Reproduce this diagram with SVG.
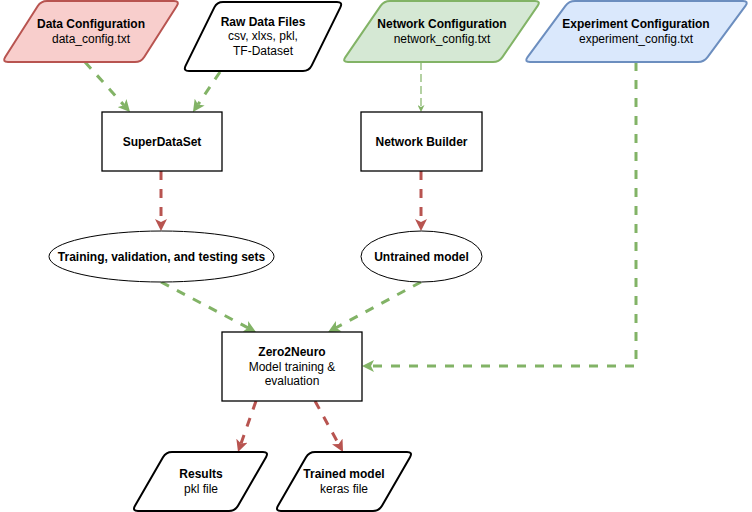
<svg xmlns="http://www.w3.org/2000/svg" width="752" height="512" viewBox="0 0 752 512">
<style>
text{font-family:"Liberation Sans",Arial,sans-serif;font-size:12px;fill:#000;text-anchor:middle}
.b{font-weight:bold}
.para{stroke-width:2}
.box{fill:#fff;stroke:#000;stroke-width:1.3}
.ell{fill:#fff;stroke:#000;stroke-width:1}
.g{fill:none;stroke:#82b366;stroke-width:3;stroke-dasharray:9 9}
.r{fill:none;stroke:#b85450;stroke-width:3;stroke-dasharray:9 9}
.gt{fill:none;stroke:#82b366;stroke-width:1.2;stroke-dasharray:8 4}
</style>
<defs>
<marker id="ag" markerUnits="userSpaceOnUse" markerWidth="12" markerHeight="12" refX="3" refY="6" orient="auto"><path d="M0,0 L12,6 L0,12 L3,6 Z" fill="#82b366"/></marker>
<marker id="ar" markerUnits="userSpaceOnUse" markerWidth="12" markerHeight="12" refX="3" refY="6" orient="auto"><path d="M0,0 L12,6 L0,12 L3,6 Z" fill="#b85450"/></marker>
<marker id="agt" markerUnits="userSpaceOnUse" markerWidth="7" markerHeight="7" refX="2" refY="3.5" orient="auto"><path d="M0,0 L7,3.5 L0,7 L2,3.5 Z" fill="#82b366"/></marker>
</defs>
<g id="connectors">
<path class="g" d="M85,62 L124,105.3" marker-end="url(#ag)"/>
<path class="g" d="M220,72 L198,104.5" marker-end="url(#ag)"/>
<path class="gt" d="M421,62 L421,107" marker-end="url(#agt)"/>
<path class="g" d="M636,62 L636,366 L371,366" marker-end="url(#ag)"/>
<path class="r" d="M161,171 L161,222" marker-end="url(#ar)"/>
<path class="r" d="M421,171 L421,222" marker-end="url(#ar)"/>
<path class="g" d="M161,282 L248,327.8" marker-end="url(#ag)"/>
<path class="g" d="M421,282 L336.1,327.7" marker-end="url(#ag)"/>
<path class="r" d="M256,401 L241,443.5" marker-end="url(#ar)"/>
<path class="r" d="M315,401 L338.7,444.1" marker-end="url(#ar)"/>
</g>
<g id="data-config">
<path class="para" fill="#f8cecc" stroke="#b85450" d="M37.77,6.06 Q41,1 47,1 L174,1 Q180,1 176.77,6.06 L144.23,56.94 Q141,62 135,62 L8,62 Q2,62 5.23,56.94 Z"/>
<text x="91" y="28" class="b">Data Configuration</text>
<text x="91" y="43">data_config.txt</text>
</g>
<g id="raw-data">
<path class="para" fill="#fff" stroke="#000" d="M214.35,7.38 Q217,2 223,2 L337,2 Q343,2 340.35,7.38 L311.65,65.62 Q309,71 303,71 L189,71 Q183,71 185.65,65.62 Z"/>
<text x="263" y="26" class="b">Raw Data Files</text>
<text x="263" y="40">csv, xlxs, pkl,</text>
<text x="263" y="55">TF-Dataset</text>
</g>
<g id="network-config">
<path class="para" fill="#d5e8d4" stroke="#82b366" d="M380.6,5.94 Q384,1 390,1 L535,1 Q541,1 537.6,5.94 L502.4,57.06 Q499,62 493,62 L348,62 Q342,62 345.4,57.06 Z"/>
<text x="442" y="28" class="b">Network Configuration</text>
<text x="442" y="43">network_config.txt</text>
</g>
<g id="experiment-config">
<path class="para" fill="#dae8fc" stroke="#6c8ebf" d="M565.44,5.83 Q569,1 575,1 L743,1 Q749,1 745.44,5.83 L707.56,57.17 Q704,62 698,62 L530,62 Q524,62 527.56,57.17 Z"/>
<text x="636" y="28" class="b">Experiment Configuration</text>
<text x="636" y="43">experiment_config.txt</text>
</g>
<g id="superdataset">
<rect class="box" x="102" y="112" width="120" height="59"/>
<text x="162" y="146" class="b">SuperDataSet</text>
</g>
<g id="network-builder">
<rect class="box" x="361" y="112" width="121" height="59"/>
<text x="421.5" y="146" class="b">Network Builder</text>
</g>
<g id="datasets">
<ellipse class="ell" cx="161.5" cy="256.5" rx="112.5" ry="25.5"/>
<text x="161.5" y="261" class="b">Training, validation, and testing sets</text>
</g>
<g id="untrained-model">
<ellipse class="ell" cx="421.5" cy="256.5" rx="60.5" ry="25.5"/>
<text x="421.5" y="261" class="b">Untrained model</text>
</g>
<g id="zero2neuro">
<rect class="box" x="222" y="332" width="140" height="69"/>
<text x="292" y="356" class="b">Zero2Neuro</text>
<text x="292" y="371">Model training &amp;</text>
<text x="292" y="385">evaluation</text>
</g>
<g id="results">
<path class="para" fill="#fff" stroke="#000" d="M163,457.2 Q166,452 172,452 L263,452 Q269,452 266,457.2 L238,505.8 Q235,511 229,511 L138,511 Q132,511 135,505.8 Z"/>
<text x="201" y="478" class="b">Results</text>
<text x="201" y="493">pkl file</text>
</g>
<g id="trained-model">
<path class="para" fill="#fff" stroke="#000" d="M306,457.2 Q309,452 315,452 L407,452 Q413,452 410,457.2 L382,505.8 Q379,511 373,511 L281,511 Q275,511 278,505.8 Z"/>
<text x="344" y="478" class="b">Trained model</text>
<text x="344" y="493">keras file</text>
</g>
</svg>
